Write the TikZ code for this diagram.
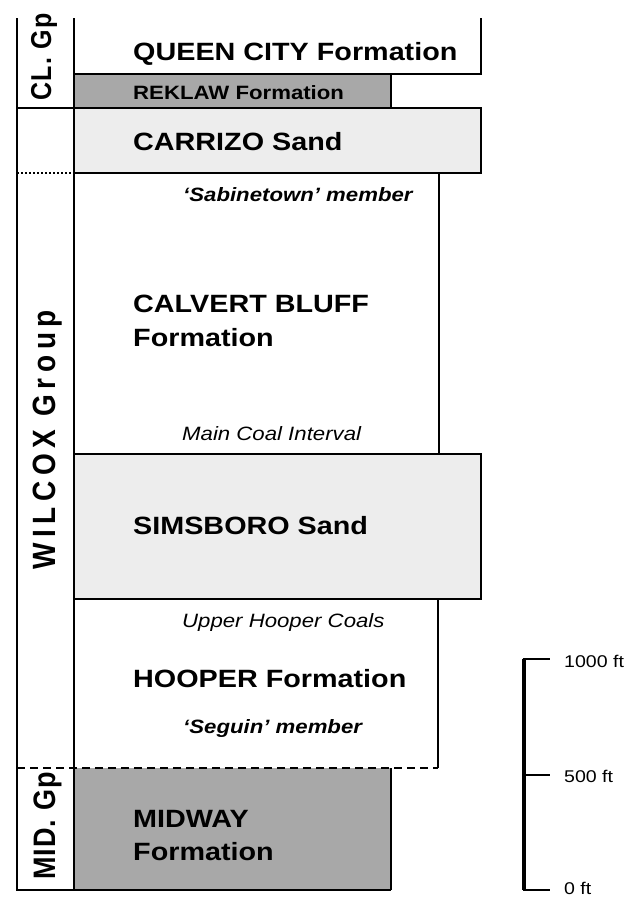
\documentclass[tikz,border=0pt]{standalone}
\usepackage{fontspec}
\usepackage{graphicx}
\setmainfont{Liberation Sans}[FakeStretch=1.15]
\newfontfamily\rotfont{Liberation Sans}
\definecolor{darkfill}{HTML}{A8A8A8}
\definecolor{lightfill}{HTML}{EDEDED}
\tikzset{
  bx/.style={line width=1.6pt},
  axisline/.style={line width=2.4pt},
  big/.style={font=\fontsize{25}{27}\selectfont\bfseries, anchor=base west, inner sep=0pt},
  mid/.style={font=\fontsize{19.3}{21}\selectfont\bfseries, anchor=base west, inner sep=0pt},
  ital/.style={font=\fontsize{19.3}{21}\selectfont\itshape, anchor=base west, inner sep=0pt},
  boldital/.style={font=\fontsize{19.3}{21}\selectfont\bfseries\itshape, anchor=base west, inner sep=0pt},
  scalelbl/.style={font=\fontsize{17}{19}\selectfont, anchor=west, inner sep=0pt},
  rot/.style={rotate=90, anchor=base, inner sep=0pt, font=\rotfont\bfseries}
}
\begin{document}
\begin{tikzpicture}[x=1pt,y=-1pt]
\useasboundingbox (0,0) rectangle (625,898);
% fills
\fill[darkfill] (74,74) rectangle (391,108);
\fill[lightfill] (74,108) rectangle (481,173);
\fill[lightfill] (74,454) rectangle (481,599);
\fill[darkfill] (74,768) rectangle (391,890);
% boxes
\draw[bx] (481,18) -- (481,74) -- (74,74);
\draw[bx] (391,74) -- (391,108);
\draw[bx] (17,108) -- (481,108) -- (481,173) -- (74,173);
\draw[bx] (74,173) -- (439,173) -- (439,454);
\draw[bx] (74,454) -- (481,454) -- (481,599) -- (74,599);
\draw[bx] (438,599) -- (438,768);
\draw[bx] (391,768) -- (391,890);
\draw[bx] (17,890) -- (391,890);
\draw[line width=1.4pt, dash pattern=on 2pt off 2pt] (17,173) -- (74,173);
\draw[line width=1.4pt, dash pattern=on 8pt off 5pt] (17,768) -- (438,768);
% main verticals
\draw[axisline] (17,18) -- (17,891);
\draw[axisline] (74,18) -- (74,891);
% group labels
\node[rot] (clgp) at (51,57) {\fontsize{25}{27}\selectfont\addfontfeature{LetterSpace=5}\scalebox{1}[1.15]{CL. Gp}};
\node[rot] (wilcox) at (56,440) {\fontsize{28}{30}\selectfont\addfontfeature{LetterSpace=20}\scalebox{1}[1.15]{WILCOX Group}};
\node[rot] (midgp) at (56,826) {\fontsize{27}{29}\selectfont\addfontfeature{LetterSpace=4}\scalebox{1}[1.15]{MID. Gp}};
% formation labels
\node[big] (queen) at (133,60) {QUEEN CITY Formation};
\node[mid] (reklaw) at (133,99) {REKLAW Formation};
\node[big] (carrizo) at (133,150) {CARRIZO Sand};
\node[boldital] (sabine) at (183,201) {‘Sabinetown’ member};
\node[big] (calvert) at (133,312) {CALVERT BLUFF};
\node[big] (calvert2) at (133,346) {Formation};
\node[ital] (maincoal) at (182,440) {Main Coal Interval};
\node[big] (simsboro) at (133,534) {SIMSBORO Sand};
\node[ital] (upperhooper) at (182,627) {Upper Hooper Coals};
\node[big] (hooper) at (133,687) {HOOPER Formation};
\node[boldital] (seguin) at (183,733) {‘Seguin’ member};
\node[big] (midway) at (133,827) {MIDWAY};
\node[big] (midway2) at (133,860) {Formation};
% scale bar
\coordinate (stop) at (524,659);
\coordinate (smid) at (524,775);
\coordinate (sbot) at (524,890);
\draw[line width=3.5pt] (stop) -- (sbot);
\coordinate (ttop) at (550,659);
\coordinate (tmid) at (550,775);
\coordinate (tbot) at (550,890);
\draw[line width=1.6pt] (522.5,659) -- (ttop);
\draw[line width=1.6pt] (smid) -- (tmid);
\draw[line width=1.6pt] (522.5,890) -- (tbot);
\node[scalelbl] (l1000) at (564,661) {1000 ft};
\node[scalelbl] (l500) at (564,776) {500 ft};
\node[scalelbl] (l0) at (564,888) {0 ft};
\end{tikzpicture}
\end{document}
